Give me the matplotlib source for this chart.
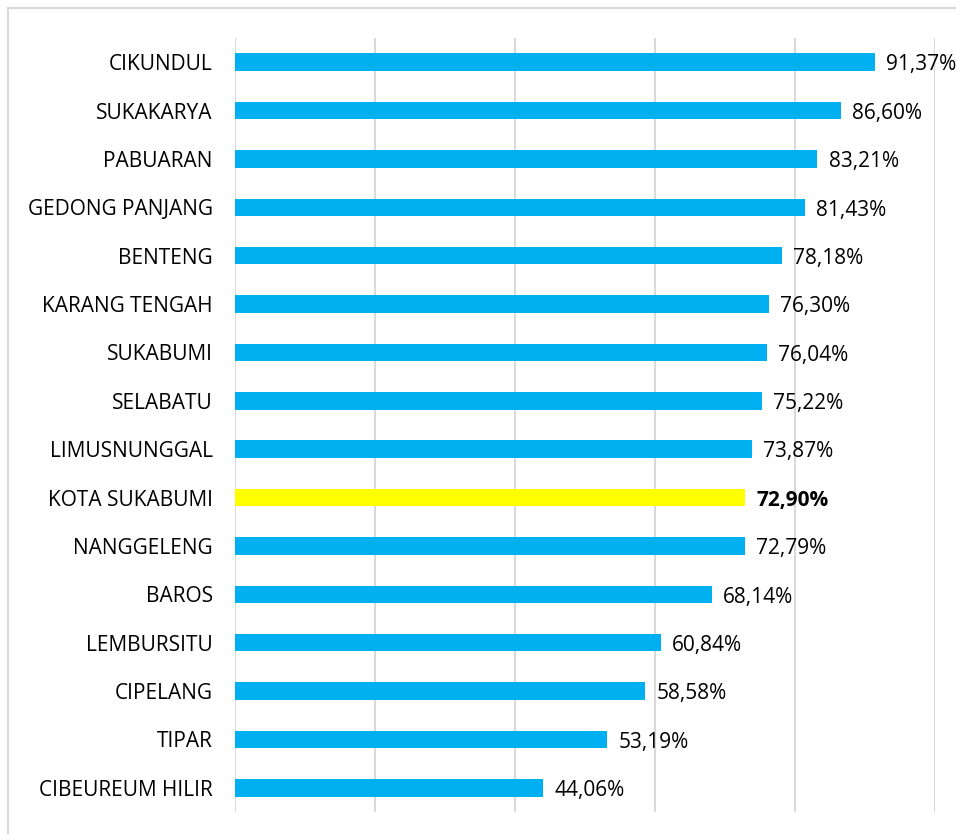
import matplotlib
matplotlib.use("Agg")
import matplotlib.pyplot as plt
from matplotlib.patches import Rectangle

categories = ["CIKUNDUL", "SUKAKARYA", "PABUARAN", "GEDONG PANJANG", "BENTENG",
              "KARANG TENGAH", "SUKABUMI", "SELABATU", "LIMUSNUNGGAL", "KOTA SUKABUMI",
              "NANGGELENG", "BAROS", "LEMBURSITU", "CIPELANG", "TIPAR", "CIBEUREUM HILIR"]
values = [91.37, 86.60, 83.21, 81.43, 78.18, 76.30, 76.04, 75.22, 73.87, 72.90,
          72.79, 68.14, 60.84, 58.58, 53.19, 44.06]
highlight = "KOTA SUKABUMI"

plt.rcParams['font.family'] = ['Open Sans', 'DejaVu Sans']

W, H = 956, 834
fig = plt.figure(figsize=(W / 100, H / 100), dpi=100)
ax = fig.add_axes([235 / W, 1 - 812 / H, 700 / W, 774 / H])

colors = ["#FFFF00" if c == highlight else "#00B0F0" for c in categories]
ypos = list(range(len(categories)))
ax.barh(ypos, values, height=0.36, color=colors, zorder=3)

for y, v, c in zip(ypos, values, categories):
    txt = ("%.2f%%" % v).replace(".", ",")
    ax.annotate(txt, (v, y), xytext=(8, -2), textcoords="offset points",
                va="center", ha="left", fontsize=15, color="black",
                fontweight="bold" if c == highlight else "normal")

ax.set_xlim(0, 100)
ax.set_ylim(len(categories) - 0.5, -0.5)
ax.set_xticks([0, 20, 40, 60, 80, 100])
ax.set_xticklabels([])
ax.tick_params(axis="x", length=0)
ax.tick_params(axis="y", length=0, pad=16, labelsize=15)
ax.set_yticks(ypos)
ax.set_yticklabels(categories)
ax.grid(axis="x", color="#D9D9D9", linewidth=1.5, zorder=0)
for s in ax.spines.values():
    s.set_visible(False)

fig.patches.append(Rectangle((8 / W, -0.1), 1.2, 1 - 8 / H + 0.1,
                             transform=fig.transFigure, fill=False,
                             edgecolor="#D9D9D9", linewidth=1.5))

fig.savefig("out.png", dpi=100)
